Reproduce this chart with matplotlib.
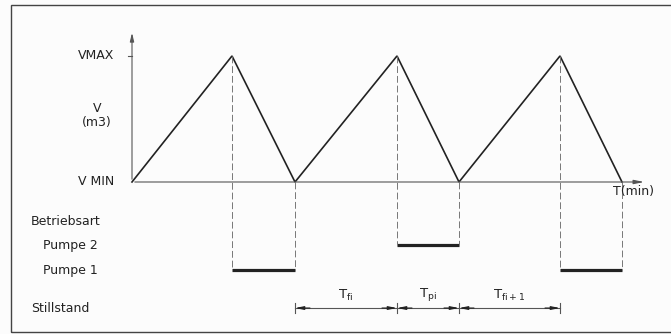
import numpy as np
import matplotlib.pyplot as plt
from matplotlib.patches import Rectangle

# Zeitpunkte (min) der Umkehrpunkte und Volumen (0 = VMIN, 1 = VMAX)
t_points = [0, 10, 16.3, 26.5, 32.7, 42.8, 49]
v_points = [0, 1, 0, 1, 0, 1, 0]

# Pumpphasen: (Start, Ende, Pumpe)
pump_phases = [(10, 16.3, 1), (26.5, 32.7, 2), (42.8, 49, 1)]

# Stillstand-Bemaßung
dim_ticks = [16.3, 26.5, 32.7, 42.8]
dim_labels = [r'$\mathrm{T_{fi}}$', r'$\mathrm{T_{pi}}$', r'$\mathrm{T_{fi+1}}$']

left_labels = ['Betriebsart', 'Pumpe 2', 'Pumpe 1', 'Stillstand']

# Höhen der unteren Zeilen im Diagramm
level = {'Betriebsart': -0.317, 2: -0.5, 1: -0.7, 'Stillstand': -1.0}

plt.rcParams['font.family'] = ['DejaVu Sans']
fig = plt.figure(figsize=(6.71, 3.34), dpi=100, facecolor='#fcfcfc')
ax = fig.add_axes([0, 0, 1, 1])
ax.set_facecolor('#fcfcfc')
ax.set_xlim(-13.2, 53.9)
ax.set_ylim(-1.206, 1.444)
ax.axis('off')

fs = 9
dark = '#222222'
grey = '#555555'

# Rahmen
fig.patches.append(Rectangle((11 / 671, 2 / 334), 1.2, (329 - 2) / 334, transform=fig.transFigure,
                             fill=False, edgecolor='#444444', lw=1.0))

# Achsen
ax.annotate('', xy=(0, 1.206), xytext=(0, 0),
            arrowprops=dict(arrowstyle='-|>,head_length=0.5,head_width=0.12', color=grey, lw=0.8))
ax.annotate('', xy=(51.5, 0), xytext=(0, 0),
            arrowprops=dict(arrowstyle='-|>,head_length=0.6,head_width=0.12', color=grey, lw=0.8))
ax.plot([-0.4, 0], [1, 1], color=grey, lw=0.8)

# Volumenverlauf
ax.plot(t_points, v_points, color=dark, lw=1.2, solid_joinstyle='miter')

# Pumpphasen und Hilfslinien
for t0, t1, p in pump_phases:
    y = level[p]
    ax.plot([t0, t1], [y, y], color=dark, lw=2.3, solid_capstyle='butt')
    for t in (t0, t1):
        v = v_points[t_points.index(t)]
        ax.plot([t, t], [v, y], color='#777777', lw=0.7, dashes=(7, 3))

# Bemaßung Stillstand
ys = level['Stillstand']
ax.plot([dim_ticks[0], dim_ticks[-1]], [ys, ys], color=grey, lw=0.8)
for t in dim_ticks:
    ax.plot([t, t], [ys - 0.04, ys + 0.04], color=grey, lw=0.8)
for a, b, lab in zip(dim_ticks[:-1], dim_ticks[1:], dim_labels):
    ax.annotate('', xy=(a, ys), xytext=(a + 1.5, ys),
                arrowprops=dict(arrowstyle='-|>,head_length=0.5,head_width=0.1', color=dark, lw=0.8,
                                shrinkA=0, shrinkB=0))
    ax.annotate('', xy=(b, ys), xytext=(b - 1.5, ys),
                arrowprops=dict(arrowstyle='-|>,head_length=0.5,head_width=0.1', color=dark, lw=0.8,
                                shrinkA=0, shrinkB=0))
    ax.text((a + b) / 2, ys + 0.04, lab, fontsize=fs + 0.5, ha='center', va='bottom', color=dark)

# Beschriftungen links
ax.text(-1.8, 1, 'VMAX', fontsize=fs, ha='right', va='center', color=dark)
ax.text(-3.5, 0.585, 'V', fontsize=fs, ha='center', va='center', color=dark)
ax.text(-3.5, 0.475, '(m3)', fontsize=fs, ha='center', va='center', color=dark)
ax.text(-1.8, 0, 'V MIN', fontsize=fs, ha='right', va='center', color=dark)
ax.text(48.1, -0.075, 'T(min)', fontsize=fs, ha='left', va='center', color=dark)

ax.text(-10.1, level['Betriebsart'], left_labels[0], fontsize=fs, ha='left', va='center', color=dark)
ax.text(-8.9, level[2], left_labels[1], fontsize=fs, ha='left', va='center', color=dark)
ax.text(-8.9, level[1], left_labels[2], fontsize=fs, ha='left', va='center', color=dark)
ax.text(-10.1, level['Stillstand'], left_labels[3], fontsize=fs, ha='left', va='center', color=dark)

fig.savefig('out.png', dpi=100, facecolor=fig.get_facecolor())
